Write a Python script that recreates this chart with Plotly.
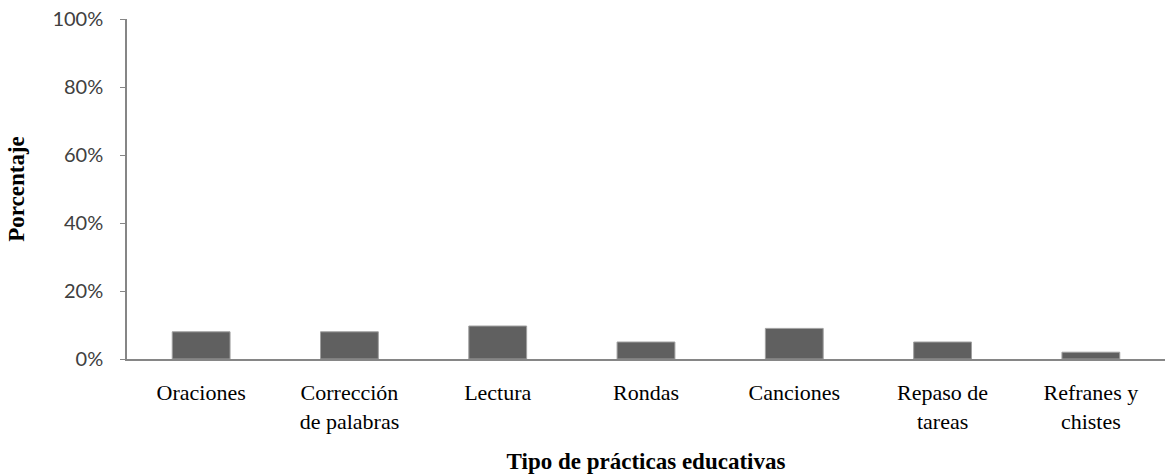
import plotly.graph_objects as go

categories = ["Oraciones", "Corrección<br>de palabras", "Lectura", "Rondas",
              "Canciones", "Repaso de<br>tareas", "Refranes y<br>chistes"]
values = [0.08, 0.08, 0.097, 0.05, 0.09, 0.05, 0.02]
y_ticks = [0, 0.2, 0.4, 0.6, 0.8, 1.0]
y_tick_labels = ["0%", "20%", "40%", "60%", "80%", "100%"]

fig = go.Figure()
fig.add_trace(go.Bar(
    x=categories, y=values,
    marker=dict(color="#606060", line=dict(color="#a0a0a0", width=1)),
))

fig.update_layout(
    width=1165, height=474,
    margin=dict(l=127, r=0, t=19, b=115),
    plot_bgcolor="white", paper_bgcolor="white",
    bargap=0.61,
    showlegend=False,
    xaxis=dict(
        range=[-0.5, 6.5], automargin=False,
        showline=True, linecolor="#868686", linewidth=1.5,
        ticks="", showgrid=False,
        ticklabelstandoff=13,
        tickfont=dict(family="Liberation Serif", size=22, color="#000000"),
        title=dict(text="<b>Tipo de prácticas educativas</b>",
                   font=dict(family="Liberation Serif", size=23, color="#000000"),
                   standoff=24),
    ),
    yaxis=dict(
        range=[0, 1.0], automargin=False,
        tickvals=y_ticks, ticktext=y_tick_labels,
        showline=True, linecolor="#868686", linewidth=1.5,
        ticks="outside", ticklen=5, tickcolor="#868686",
        showgrid=False, zeroline=False,
        ticklabelstandoff=13,
        tickfont=dict(family="Lato", size=20, color="#404040"),
        title=dict(text="<b>Porcentaje</b>",
                   font=dict(family="Liberation Serif", size=23, color="#000000"),
                   standoff=21),
    ),
)

fig.write_html("out.html", post_script="document.body.style.margin='0';",
               config={"displayModeBar": False})
